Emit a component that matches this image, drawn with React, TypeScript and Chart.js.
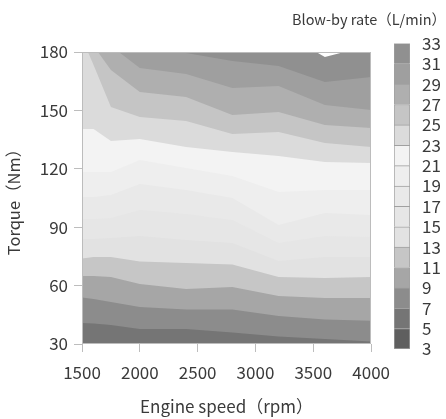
import React, { useEffect, useRef } from 'react';
import { Chart, registerables } from 'chart.js';

Chart.register(...registerables);

const FONT = '"Noto Sans CJK JP", "Noto Sans", sans-serif';
const TEXT = '#3a3a3a';

// Engine speed grid (rpm)
const rpm = [1500, 1600, 1750, 2000, 2400, 2800, 3200, 3600, 4000];

// Colour-bar levels (L/min)
const rateLevels = [3, 5, 7, 9, 11, 13, 15, 17, 19, 21, 23, 25, 27, 29, 31, 33];
const bandColors = [
  '#5f5f5f', '#757575', '#8c8c8c', '#a6a6a6', '#c6c6c6',
  '#e2e2e2', '#e6e6e6', '#e9e9e9', '#eeeeee', '#f3f3f3',
  '#dbdbdb', '#c5c5c5', '#afafaf', '#9f9f9f', '#909090',
];

// Torque (Nm) of each contour line of blow-by rate, along rpm
const contour7 = [40.8, 40.5, 39.8, 37.7, 37.7, 35.9, 33.9, 32.6, 31.3];
const contour9 = [53.9, 53.1, 51.6, 49.0, 47.7, 47.7, 44.4, 42.6, 42.0];
const contour11 = [64.9, 64.9, 64.4, 60.8, 58.3, 59.3, 54.7, 53.6, 53.6];
const contour13 = [73.9, 74.7, 74.7, 72.4, 71.6, 70.8, 64.4, 63.9, 64.4];
const contour15 = [83.9, 83.9, 84.5, 85.5, 83.4, 81.9, 72.6, 74.7, 74.7];
const contour17 = [94.2, 94.2, 94.7, 98.8, 96.8, 93.7, 81.9, 85.5, 85.0];
const contour19 = [105.5, 105.5, 106.5, 112.2, 109.1, 105.0, 91.1, 97.3, 96.3];
const contour21 = [118.4, 118.4, 118.4, 124.5, 120.4, 116.3, 108.1, 109.1, 109.1];
const contour23 = [140.4, 140.4, 134.3, 135.3, 131.2, 128.6, 126.6, 123.5, 123.0];
const contour25 = [187.2, 173.3, 151.7, 146.6, 144.6, 137.9, 138.9, 133.3, 131.2];
const contour27 = [186.2, 183.1, 170.8, 159.5, 156.9, 147.6, 149.2, 142.5, 141.0];
const contour29 = [186.2, 186.2, 183.1, 171.8, 168.7, 161.5, 162.5, 152.8, 150.2];
const contour31 = [186.2, 186.2, 186.2, 183.1, 179.5, 175.4, 172.8, 164.6, 167.2];
const contour33 = [190.0, 190.0, 190.0, 190.0, 190.0, 190.0, 191.3, 177.4, 183.6];

const contourLevels = [7, 9, 11, 13, 15, 17, 19, 21, 23, 25, 27, 29, 31, 33];
const contourLines = [
  contour7, contour9, contour11, contour13, contour15, contour17, contour19,
  contour21, contour23, contour25, contour27, contour29, contour31, contour33,
];

const xTicks = [1500, 2000, 2500, 3000, 3500, 4000];
const yTicks = [30, 60, 90, 120, 150, 180];

const framePlugin = {
  id: 'frame',
  afterDatasetsDraw(chart: any) {
    const { ctx, chartArea } = chart;
    ctx.save();
    ctx.strokeStyle = '#bcbcbc';
    ctx.lineWidth = 1;
    ctx.strokeRect(
      Math.round(chartArea.left) + 0.5,
      Math.round(chartArea.top) + 0.5,
      Math.round(chartArea.right - chartArea.left) - 1,
      Math.round(chartArea.bottom - chartArea.top) - 1,
    );
    ctx.restore();
  },
};

export default function App() {
  const mainRef = useRef<HTMLCanvasElement>(null);
  const barRef = useRef<HTMLCanvasElement>(null);

  useEffect(() => {
    const datasets = contourLines.map((line, i) => {
      const lvl = contourLevels[i];
      const colorIdx = rateLevels.indexOf(lvl) - 1;
      return {
        label: `${lvl}`,
        data: line.map((t, j) => ({ x: rpm[j], y: t })),
        backgroundColor: bandColors[colorIdx],
        borderColor: 'transparent',
        borderWidth: 0,
        pointRadius: 0,
        tension: 0,
        fill: 'start',
      };
    });

    const main = new Chart(mainRef.current!, {
      type: 'line',
      data: { datasets },
      options: {
        responsive: false,
        animation: false,
        layout: { padding: { top: 52, right: 26, left: 0, bottom: 0 } },
        plugins: { legend: { display: false }, tooltip: { enabled: false } },
        scales: {
          x: {
            type: 'linear',
            min: xTicks[0],
            max: xTicks[xTicks.length - 1],
            afterBuildTicks: (s: any) => { s.ticks = xTicks.map((v) => ({ value: v })); },
            ticks: {
              font: { family: FONT, size: 17 },
              color: TEXT,
              padding: 10,
              maxRotation: 0,
              callback: (v: any) => String(v),
            },
            grid: { drawOnChartArea: false, drawTicks: true, tickLength: 8, color: '#bdbdbd' },
            border: { display: false },
            title: {
              display: true,
              text: 'Engine speed（rpm）',
              font: { family: FONT, size: 17 },
              color: TEXT,
              padding: { top: 0, bottom: 2 },
            },
            afterFit: (s: any) => { s.height = 75; },
          },
          y: {
            type: 'linear',
            min: yTicks[0],
            max: yTicks[yTicks.length - 1],
            afterBuildTicks: (s: any) => { s.ticks = yTicks.map((v) => ({ value: v })); },
            ticks: {
              font: { family: FONT, size: 17 },
              color: TEXT,
              padding: 6,
              callback: (v: any) => String(v),
            },
            grid: { drawOnChartArea: false, drawTicks: true, tickLength: 8, color: '#bdbdbd' },
            border: { display: false },
            title: {
              display: true,
              text: 'Torque（Nm）',
              font: { family: FONT, size: 16.5 },
              color: TEXT,
              padding: { top: 4, bottom: 0 },
            },
            afterFit: (s: any) => { s.width = 82; },
          },
        },
      },
      plugins: [framePlugin],
    } as any);

    const barDatasets = bandColors.map((c, i) => ({
      label: `${rateLevels[i]}-${rateLevels[i + 1]}`,
      data: [[rateLevels[i], rateLevels[i + 1]]],
      backgroundColor: c,
      borderColor: '#a0a0a0',
      borderWidth: { left: 1, right: 1, top: 1, bottom: i === 0 ? 1 : 0 },
      borderSkipped: false,
      grouped: false,
      barPercentage: 1,
      categoryPercentage: 1,
      yAxisID: 'y',
    }));

    const bar = new Chart(barRef.current!, {
      type: 'bar',
      data: { labels: [''], datasets: barDatasets },
      options: {
        responsive: false,
        animation: false,
        layout: { padding: { top: 0, right: 0, left: 0, bottom: 70 } },
        plugins: {
          legend: { display: false },
          tooltip: { enabled: false },
          title: {
            display: true,
            text: 'Blow-by rate（L/min）',
            align: 'end',
            font: { family: FONT, size: 14.5, weight: 'normal' },
            color: TEXT,
            padding: { top: 11, bottom: 15 },
          },
        },
        scales: {
          x: { display: false },
          y: {
            position: 'right',
            min: rateLevels[0],
            max: rateLevels[rateLevels.length - 1],
            afterBuildTicks: (s: any) => { s.ticks = rateLevels.map((v) => ({ value: v })); },
            ticks: { font: { family: FONT, size: 17 }, color: TEXT, padding: 4, autoSkip: false },
            grid: { display: false },
            border: { display: false },
            afterFit: (s: any) => { s.width = 36; },
          },
          pad: {
            axis: 'y',
            type: 'linear',
            position: 'left',
            display: true,
            ticks: { display: false },
            grid: { display: false },
            border: { display: false },
            afterFit: (s: any) => { s.width = 124; },
          },
        },
      },
    } as any);

    return () => {
      main.destroy();
      bar.destroy();
    };
  }, []);

  return (
    <div style={{ position: 'absolute', left: 0, top: 0, width: 446, height: 419, background: '#fff' }}>
      <canvas ref={mainRef} width={400} height={419} style={{ position: 'absolute', left: 0, top: 0 }} />
      <canvas ref={barRef} width={176} height={419} style={{ position: 'absolute', left: 270, top: 0 }} />
    </div>
  );
}
